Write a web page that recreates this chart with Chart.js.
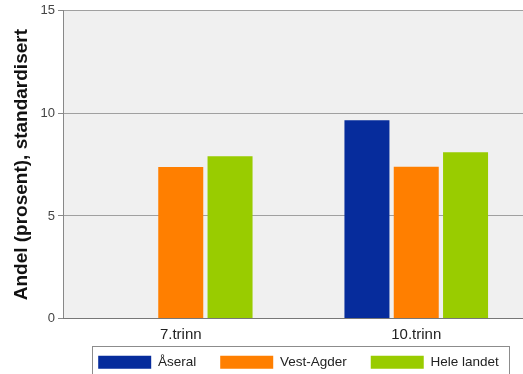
<!DOCTYPE html>
<html>
<head>
<meta charset="utf-8">
<script src="https://cdn.jsdelivr.net/npm/chart.js@4"></script>
<style>
  html, body { margin: 0; padding: 0; background: #fff; overflow: hidden; }
  #wrap { width: 534px; height: 394px; }
</style>
</head>
<body>
<div id="wrap"><canvas id="barChart"></canvas></div>
<script>
const categories = ['7.trinn', '10.trinn'];
const aseral = [null, 9.67];
const vestAgder = [7.38, 7.4];
const heleLandet = [7.91, 8.1];
const yTicks = [0, 5, 10, 15];

// grey plot background
const plotBg = {
    id: 'plotBg',
    beforeDraw(chart) {
        const a = chart.chartArea;
        const ctx = chart.ctx;
        ctx.save();
        ctx.fillStyle = '#f0f0f0';
        ctx.fillRect(a.left, a.top, a.right - a.left, a.bottom - a.top);
        ctx.restore();
    }
};

// pull the legend up a bit so it sits close under the category labels
const legendLift = {
    id: 'legendLift',
    afterLayout(chart) {
        chart.legend.top -= 15;
        chart.legend.bottom -= 15;
    }
};

// box around the legend items
const legendBorder = {
    id: 'legendBorder',
    afterDraw(chart) {
        const boxes = chart.legend.legendHitBoxes;
        if (!boxes || !boxes.length) return;
        const left = Math.min(...boxes.map(b => b.left)) - 6;
        const right = Math.max(...boxes.map(b => b.left + b.width)) + 10;
        const top = Math.min(...boxes.map(b => b.top)) - 10;
        const bottom = Math.max(...boxes.map(b => b.top + b.height)) + 8;
        const ctx = chart.ctx;
        ctx.save();
        ctx.strokeStyle = '#8c8c8c';
        ctx.lineWidth = 1;
        ctx.strokeRect(Math.round(left) + 0.5, Math.round(top) + 0.5, Math.round(right - left), Math.round(bottom - top));
        ctx.restore();
    }
};

const ctx = document.getElementById('barChart').getContext('2d');
const barChart = new Chart(ctx, {
    type: 'bar',
    data: {
        labels: categories,
        datasets: [
            { label: 'Åseral', data: aseral, backgroundColor: '#062c9c' },
            { label: 'Vest-Agder', data: vestAgder, backgroundColor: '#ff7f00' },
            { label: 'Hele landet', data: heleLandet, backgroundColor: '#99cc00' }
        ]
    },
    options: {
        responsive: true,
        maintainAspectRatio: false,
        animation: false,
        datasets: { bar: { barPercentage: 0.913, categoryPercentage: 0.628 } },
        layout: { padding: { top: 7, left: 0, right: 0, bottom: 0 } },
        scales: {
            y: {
                min: 0,
                max: 15,
                afterBuildTicks: axis => { axis.ticks = yTicks.map(v => ({ value: v })); },
                afterFit: axis => { axis.width = 63; },
                ticks: { color: '#444', padding: 3, font: { family: 'Liberation Sans', size: 13 } },
                grid: { color: '#a0a0a0', tickLength: 5, tickColor: '#888' },
                border: { color: '#888' },
                title: {
                    display: true,
                    text: 'Andel (prosent), standardisert',
                    color: '#111',
                    padding: { top: 10, bottom: 0 },
                    font: { family: 'Liberation Sans', size: 19, weight: 'bold' }
                }
            },
            x: {
                afterFit: axis => { axis.height = 28; },
                ticks: { color: '#222', padding: 7, font: { family: 'Liberation Sans', size: 15 } },
                grid: { display: false, drawTicks: false },
                border: { color: '#777' }
            }
        },
        plugins: {
            legend: {
                position: 'bottom',
                fullSize: false,
                labels: {
                    boxWidth: 53,
                    boxHeight: 13,
                    padding: 24,
                    color: '#222',
                    font: { family: 'Liberation Sans', size: 13.5 }
                }
            },
            tooltip: { enabled: false }
        }
    },
    plugins: [plotBg, legendLift, legendBorder]
});
</script>
</body>
</html>
